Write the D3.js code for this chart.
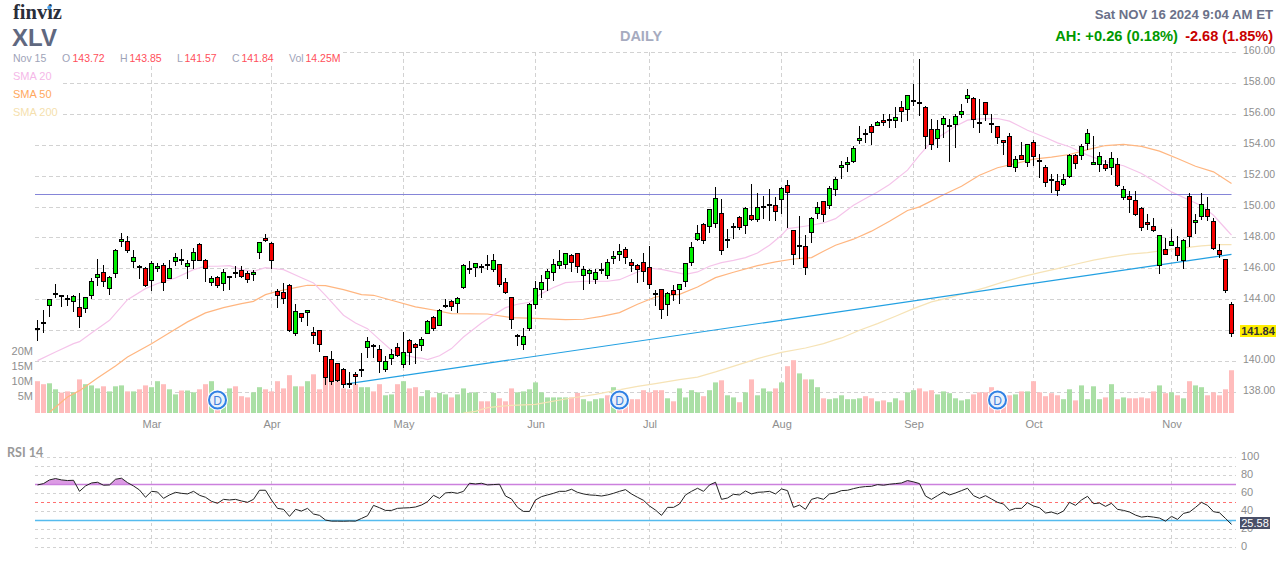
<!DOCTYPE html>
<html>
<head>
<meta charset="utf-8">
<script src="https://cdn.jsdelivr.net/npm/d3@7"></script>
<style>
  html, body { margin: 0; padding: 0; background: #fff; overflow: hidden; }
  text { font-family: "Liberation Sans", Arial, sans-serif; }
</style>
</head>
<body>
<div id="chart"></div>
<script>
// candles, one entry per trading day
const opens = [
  142.07,142.50,143.60,144.38,144.23,144.03,143.86,143.49,143.43,144.25,
  145.41,145.76,144.72,145.67,147.74,147.76,146.45,146.10,146.02,145.22,
  146.00,146.21,145.37,146.45,146.56,146.12,146.53,147.57,146.53,145.09,
  145.43,145.05,145.44,145.72,145.89,145.69,145.63,147.05,147.96,147.64,
  144.53,144.46,144.92,141.79,143.10,143.17,141.87,142.00,140.32,140.13,
  139.87,139.48,138.53,139.16,139.46,140.90,140.99,140.77,139.46,140.19,
  140.90,139.80,141.36,141.10,141.03,141.79,142.84,142.33,143.56,143.88,
  143.73,144.76,145.98,146.08,146.10,146.25,145.95,146.27,145.11,144.14,
  141.62,141.10,142.13,143.69,144.63,145.37,145.76,146.19,146.27,146.86,
  146.99,145.54,145.69,145.28,145.93,145.54,146.66,146.92,147.25,146.40,
  146.21,146.40,146.08,144.36,144.66,143.69,144.59,144.66,145.17,146.40,
  147.89,148.86,148.73,148.93,149.58,147.87,148.67,149.32,148.80,149.45,
  149.19,150.01,150.12,150.09,150.48,151.39,148.47,147.48,147.44,148.35,
  149.58,150.35,150.09,151.13,152.56,152.73,152.93,154.28,154.74,155.19,
  155.25,155.60,155.60,155.58,156.44,156.31,156.88,156.70,156.44,155.04,
  154.44,155.34,155.26,155.34,155.99,157.02,157.02,155.43,156.77,155.34,
  155.21,154.31,154.56,152.56,153.33,152.88,154.15,152.97,152.56,151.72,
  151.63,151.48,151.98,153.33,153.33,154.11,152.75,152.75,152.75,152.56,
  152.75,150.62,150.68,150.42,149.90,149.00,148.74,146.23,147.25,147.51,
  147.38,146.54,150.68,149.00,149.39,149.84,149.06,147.18,146.60,143.72
];
const highs = [
  142.67,143.32,144.08,145.05,144.27,144.29,144.29,144.46,144.14,145.43,
  146.62,146.23,145.56,147.31,148.30,148.11,147.20,146.23,146.12,146.51,
  146.41,146.38,146.60,147.05,147.27,146.56,147.38,147.66,146.66,145.56,
  145.52,145.97,145.52,146.21,146.21,145.84,145.95,147.70,148.24,147.76,
  144.68,145.11,145.05,143.71,143.10,143.36,142.26,142.07,140.32,140.67,
  139.87,139.61,139.31,139.35,140.58,141.57,141.16,141.05,140.34,140.84,
  141.23,141.90,141.44,141.23,141.59,142.71,142.93,143.38,144.07,144.01,
  144.16,146.34,146.49,146.34,146.34,146.88,146.94,146.27,145.39,144.14,
  141.79,142.15,143.81,145.20,145.58,145.97,146.64,147.20,146.99,146.99,
  147.05,146.21,146.00,145.97,146.40,146.62,147.14,147.63,147.44,146.66,
  146.30,147.05,147.50,144.66,144.66,144.53,144.98,145.04,146.34,147.76,
  148.86,148.99,149.90,151.32,150.55,148.60,148.99,149.45,150.03,151.52,
  150.93,150.70,151.15,150.68,151.32,151.78,148.47,149.40,148.17,149.36,
  150.35,150.35,151.39,151.97,152.99,153.21,153.94,155.23,155.02,155.36,
  155.56,156.05,156.05,156.49,156.85,157.28,157.93,159.61,156.57,155.69,
  155.62,155.86,155.69,156.01,156.64,157.61,157.09,156.96,156.77,156.01,
  155.21,154.37,154.76,153.29,154.20,154.03,154.35,153.40,152.69,152.11,
  152.11,152.11,153.46,153.46,154.05,155.02,154.59,153.59,153.03,153.53,
  153.16,151.39,151.07,151.07,150.03,149.54,149.32,148.15,147.98,148.61,
  148.11,147.95,150.94,149.52,150.94,150.62,149.32,147.64,146.60,143.85
];
const lows = [
  141.34,141.85,142.89,144.12,143.54,143.58,143.21,142.18,143.15,144.08,
  144.90,144.81,144.31,145.41,147.42,147.05,146.04,145.35,144.83,144.57,
  145.80,144.57,145.33,146.19,146.23,145.35,146.02,146.49,145.15,144.92,
  144.79,144.57,144.66,145.39,145.43,145.07,145.20,146.62,147.76,146.02,
  143.47,143.71,141.92,141.68,142.57,142.28,141.14,140.62,138.49,138.51,
  138.66,138.27,138.31,138.49,139.01,140.23,140.23,139.26,139.35,139.78,
  140.30,139.57,139.78,139.87,140.66,141.79,141.98,142.33,143.47,143.25,
  143.12,144.70,145.65,145.48,145.74,145.95,145.80,144.83,144.38,142.09,
  140.99,140.73,141.96,143.38,144.10,144.55,145.20,146.00,146.02,145.78,
  145.76,144.61,145.04,145.00,145.69,145.33,146.34,146.49,146.30,145.78,
  145.07,145.13,144.70,143.62,142.74,142.93,143.92,143.71,144.81,146.17,
  147.81,147.59,148.35,148.67,146.90,147.33,147.96,148.50,148.26,149.12,
  149.04,149.25,149.12,149.10,149.53,148.65,146.23,146.66,145.58,147.68,
  149.25,149.04,149.88,150.70,151.82,152.26,152.88,154.09,154.15,154.00,
  155.23,155.23,155.13,155.13,155.51,155.56,156.53,155.90,153.74,153.68,
  153.81,154.44,152.93,153.83,155.77,156.74,155.10,154.80,155.56,154.76,
  154.11,153.36,152.58,152.26,153.08,152.60,152.64,151.89,151.31,150.92,
  150.72,151.39,151.91,152.45,153.03,153.68,152.69,152.26,152.34,152.06,
  151.31,150.44,149.62,149.43,148.46,148.50,148.39,145.67,146.93,147.47,
  146.49,146.00,147.42,148.27,149.19,149.11,147.25,146.71,144.44,141.57
];
const closes = [
  142.12,142.53,144.01,144.42,144.27,144.07,144.20,142.91,144.14,145.18,
  145.63,145.15,145.43,147.18,147.89,147.16,146.73,146.14,144.90,146.34,
  146.15,145.11,146.02,146.73,146.60,146.34,147.05,146.53,146.00,145.37,
  144.90,145.76,145.48,145.76,145.50,145.28,145.76,147.70,147.83,146.53,
  144.27,144.05,142.00,143.23,142.85,143.30,141.66,141.10,138.96,138.70,
  138.77,138.53,138.57,139.01,139.50,141.29,141.03,139.98,140.00,140.45,
  140.36,140.58,140.58,140.88,141.42,142.58,142.13,143.30,143.60,143.56,
  144.07,146.21,146.02,146.34,146.14,146.29,146.53,144.96,144.46,142.71,
  141.66,141.61,143.69,144.72,145.11,145.82,146.27,146.47,146.99,146.40,
  146.12,145.95,145.89,145.76,145.97,146.40,146.79,147.12,146.71,146.19,
  145.95,145.80,144.98,144.40,143.36,144.40,144.33,144.98,146.34,147.37,
  148.28,147.81,149.83,150.55,147.18,147.91,148.71,148.67,149.90,149.17,
  149.96,150.05,150.16,149.70,151.19,150.93,146.92,147.52,146.08,149.25,
  149.96,149.51,151.19,151.78,152.71,152.88,153.79,154.44,154.78,154.82,
  155.47,155.45,155.64,155.79,156.16,157.22,156.92,156.74,154.54,154.05,
  155.04,155.73,155.30,155.86,156.18,157.22,155.64,155.47,155.99,155.38,
  154.50,154.18,152.64,153.08,153.08,154.03,153.27,153.01,151.59,151.76,
  151.05,151.78,153.36,152.82,153.90,154.76,152.88,153.27,152.49,153.14,
  151.39,151.13,150.49,149.52,148.67,148.87,148.48,148.15,146.93,147.77,
  146.86,147.81,148.09,149.13,150.16,149.39,147.29,146.93,144.57,141.84
];

// volume in millions
const volumes = [
  10.6,9.6,9.9,7.9,6.8,7.2,6.9,11.2,9.6,9.2,
  8.2,8.9,7.2,8.9,9.2,7.2,7.2,7.9,9.2,8.6,
  10.6,9.6,7.9,6.2,7.5,7.5,6.9,7.9,9.6,10.6,
  5.0,6.4,8.2,8.9,5.6,5.2,6.9,8.6,7.9,7.2,
  10.6,8.2,12.6,8.9,8.9,10.6,12.9,7.9,11.9,11.2,
  10.6,8.2,7.9,9.6,8.6,8.6,7.2,9.6,5.9,6.2,
  9.6,10.6,8.2,8.6,5.6,7.6,5.2,6.7,6.2,5.2,
  6.2,8.2,6.7,6.9,3.9,3.9,6.7,4.9,3.9,8.2,
  6.9,7.2,7.9,10.2,6.9,5.2,5.2,5.2,5.2,5.2,
  6.7,4.6,3.9,4.6,4.9,5.9,8.6,3.1,4.2,4.6,
  4.6,7.6,6.9,7.6,7.6,4.9,3.9,8.2,5.2,7.6,
  6.9,5.6,7.6,10.2,10.9,5.9,5.2,3.6,6.9,11.2,
  5.9,8.2,7.2,8.2,10.2,15.6,17.6,13.2,11.2,11.2,
  8.6,4.9,4.6,4.9,5.9,4.6,4.6,4.9,5.6,4.9,
  3.9,4.2,3.6,4.9,4.2,6.9,7.6,8.2,7.2,7.6,
  6.2,7.2,6.6,4.9,4.2,4.6,6.2,6.9,6.9,8.6,
  5.4,5.4,5.9,6.2,7.2,7.2,10.6,6.9,5.6,6.6,
  5.9,4.6,7.9,4.2,9.2,4.6,8.9,4.6,5.2,9.6,
  4.6,5.2,4.9,4.9,5.2,4.9,7.2,9.2,6.6,6.9,
  5.9,4.9,10.6,9.2,8.6,5.9,6.9,5.9,7.9,14.25
];
// 1 = green volume bar, 0 = pink
const volumeUp = [
  0,0,1,1,0,0,1,0,1,1,
  1,0,1,1,1,0,1,0,0,1,
  1,0,1,1,0,1,1,0,0,1,
  0,1,1,0,0,0,1,1,0,0,
  0,0,0,1,0,1,0,0,0,0,
  0,0,0,0,1,1,0,0,1,1,
  0,1,0,0,1,1,0,1,1,0,
  1,1,1,1,0,0,1,0,0,0,
  1,1,1,1,1,1,1,1,1,0,
  0,1,1,1,1,0,1,0,0,0,
  0,0,0,0,0,1,0,1,1,1,
  1,0,1,1,0,1,1,0,1,0,
  1,1,1,0,1,0,0,1,0,1,
  1,0,1,1,1,1,1,1,0,0,
  1,0,1,1,0,1,1,0,0,0,
  1,1,1,1,1,1,0,0,0,0,
  0,0,0,1,0,1,0,0,0,0,
  0,1,1,0,1,1,1,1,0,1,
  0,1,0,0,0,0,0,1,0,1,
  0,1,0,1,1,0,0,0,0,0
];

const rsi = [
  69.5,71.0,75.1,76.6,75.1,74.4,74.7,62.4,68.4,71.7,
  72.5,69.2,69.5,75.8,77.0,72.1,68.4,63.9,55.8,62.4,
  61.7,54.6,58.4,61.3,60.2,59.5,62.4,58.0,55.8,51.3,
  49.1,53.5,52.8,53.5,51.7,50.2,53.5,63.6,63.6,52.8,
  43.5,42.4,34.6,42.4,40.5,43.5,37.2,35.7,30.5,29.3,
  29.3,29.2,29.4,29.3,32.3,35.3,46.8,44.2,41.2,41.2,
  43.5,43.9,44.2,45.0,47.2,50.9,58.0,54.6,60.6,61.3,
  60.2,62.4,71.4,70.6,71.4,69.5,69.9,70.3,57.2,53.9,
  44.6,40.1,40.1,52.8,56.5,58.4,60.2,62.4,62.4,64.7,
  61.3,59.5,58.4,58.0,57.2,58.4,60.2,62.4,64.3,59.5,
  55.8,52.4,46.1,41.6,35.7,44.6,44.6,48.3,58.4,62.4,
  65.8,62.4,69.5,72.5,53.5,55.0,59.1,58.4,62.8,59.5,
  61.3,61.7,62.4,59.5,65.1,63.2,44.6,47.2,42.4,53.5,
  55.4,53.5,59.5,60.6,63.2,63.6,65.4,66.9,67.7,68.0,
  69.9,69.2,70.3,71.0,71.7,74.4,72.9,71.0,57.2,53.5,
  57.6,61.7,58.4,60.6,63.2,65.8,57.6,54.6,57.6,53.9,
  50.2,48.3,41.2,43.5,43.5,49.8,46.1,44.2,38.3,39.4,
  37.2,40.5,50.2,46.8,52.8,56.9,48.7,49.4,45.7,49.1,
  42.4,41.2,39.4,36.0,33.8,34.6,33.8,32.7,29.3,34.6,
  31.2,37.9,39.4,44.6,50.2,46.8,39.8,38.6,32.3,25.58
];

// moving averages, read at every few bars: day index and price
const sma20Days = [0,3,6,7,9,12,15,18,20,23,26,28,30,32,34,36,38,39,41,44,46,48,51,53,55,57,59,61,63,64,65,67,69,71,74,76,78,80,82,84,86,88,91,95,97,100,102,104,106,108,110,112,114,116,118,120,122,124,125,127,129,131,133,134,136,138,140,142,145,147,149,151,153,155,157,160,162,165,168,170,172,175,178,181,184,187,189,192,194,196,198,199];
const sma20Vals = [140.06,140.62,141.16,141.29,141.85,142.67,144.01,144.72,145.05,145.41,145.95,146.17,146.17,146.21,145.95,145.84,146.08,146.04,145.95,145.43,145.09,144.29,143.00,142.50,142.13,141.42,140.73,140.45,140.26,140.23,140.13,140.38,140.84,141.59,142.50,143.02,143.49,143.71,143.84,144.40,144.79,145.11,145.20,145.20,145.30,145.80,146.04,145.97,145.80,145.65,145.80,146.17,146.40,146.55,146.73,147.03,147.53,148.17,148.60,148.71,148.82,148.97,149.25,149.54,150.12,150.55,150.98,151.46,152.39,153.36,154.22,154.72,155.23,155.62,155.71,155.73,155.56,154.97,154.50,154.15,153.90,153.36,152.93,152.67,152.17,151.48,150.98,150.44,150.08,149.47,148.61,148.18];
const sma50Days = [2,5,7,10,13,15,19,22,25,28,31,34,36,38,40,43,45,48,51,54,56,59,63,64,66,69,75,79,83,88,91,94,97,100,103,107,110,113,116,120,123,126,129,131,133,136,139,142,145,147,149,151,154,157,160,163,166,169,172,175,178,181,184,187,190,193,196,199];
const sma50Vals = [136.72,137.71,138.12,138.94,139.72,140.30,141.16,141.87,142.57,143.15,143.49,143.75,143.90,144.33,144.55,144.79,144.94,144.92,144.66,144.33,144.29,143.97,143.54,143.47,143.34,143.10,143.08,142.84,142.80,142.71,142.74,142.93,143.17,143.71,144.18,144.35,144.83,145.43,145.78,146.21,146.45,146.64,146.73,147.14,147.53,147.92,148.44,149.08,149.78,150.01,150.40,150.79,151.35,152.06,152.54,152.82,153.10,153.23,153.40,153.72,153.98,154.05,153.92,153.62,153.14,152.64,152.28,151.52];
const sma200Days = [71,73,75,79,83,88,93,96,100,103,107,110,113,117,120,124,128,131,133,134,137,140,143,146,149,152,155,158,161,164,167,170,173,176,179,182,185,188,191,194,197,199];
const sma200Vals = [136.67,136.78,137.02,137.17,137.23,137.58,137.88,138.10,138.40,138.57,138.83,139.00,139.33,139.82,140.19,140.60,140.88,141.16,141.42,141.53,142.03,142.46,142.93,143.43,143.86,144.14,144.47,144.79,145.16,145.48,145.76,146.02,146.30,146.56,146.77,146.95,147.05,147.21,147.36,147.49,147.57,147.57];

// drawn annotations
const trendDays = [51, 199];
const trendVals = [138.53, 146.94];
const resistance = 150.81;
const dividendDays = [30, 97, 160];

// axis ticks
const monthDays = [19, 39, 61, 83, 102, 124, 146, 166, 189];
const monthLabels = ["Mar", "Apr", "May", "Jun", "Jul", "Aug", "Sep", "Oct", "Nov"];
const priceTicks = d3.range(138, 161, 2);
const volumeTicks = [5, 10, 15, 20];
const rsiGrid = [0, 10, 20, 30, 40, 50, 60, 70, 80, 90, 100];
const rsiLabels = [0, 20, 40, 60, 80, 100];

const width = 1287, height = 562;
const left = 35, gridRight = 1236;

const svg = d3.select("#chart").append("svg")
  .attr("width", width).attr("height", height)
  .style("display", "block");

const x = d3.scaleLinear().domain([0, 199]).range([37.5, 1231.5]);
const y = d3.scaleLinear().domain([138, 160]).range([392.5, 52.5]);
const yVol = d3.scaleLinear().domain([0, 20]).range([413, 353]);
const yRsi = d3.scaleLinear().domain([0, 100]).range([547.5, 457.5]);

const gridColor = "#d2d2d2";
const crisp = v => Math.round(v - 0.5) + 0.5;

// price grid
svg.append("g").selectAll("line").data(priceTicks).join("line")
  .attr("x1", left).attr("x2", gridRight)
  .attr("y1", d => crisp(y(d))).attr("y2", d => crisp(y(d)))
  .attr("stroke", gridColor).attr("stroke-dasharray", "4 3");
svg.append("g").selectAll("line").data(monthDays).join("line")
  .attr("x1", d => crisp(x(d))).attr("x2", d => crisp(x(d)))
  .attr("y1", 52).attr("y2", 413)
  .attr("stroke", gridColor).attr("stroke-dasharray", "4 3");

// white boxes behind the legend
svg.append("rect").attr("x", 0).attr("y", 50).attr("width", 343).attr("height", 14).attr("fill", "#fff");
svg.append("rect").attr("x", 0).attr("y", 64).attr("width", 60).attr("height", 56).attr("fill", "#fff");

// volume
svg.append("g").selectAll("rect").data(volumes).join("rect")
  .attr("x", (d, i) => x(i) - 2.5)
  .attr("width", 5)
  .attr("y", d => yVol(d))
  .attr("height", d => yVol(0) - yVol(d))
  .attr("fill", (d, i) => volumeUp[i] ? "#aadfa5" : "#ffbcbc");

// moving averages
svg.append("clipPath").attr("id", "plot").append("rect")
  .attr("x", left).attr("y", 52).attr("width", gridRight - left).attr("height", 361);
const priceLine = d3.line().x(d => x(d[0])).y(d => y(d[1]));
const plot = svg.append("g").attr("clip-path", "url(#plot)");
[[sma200Days, sma200Vals, "#f6e3b6"], [sma50Days, sma50Vals, "#ffb680"], [sma20Days, sma20Vals, "#f5c4ea"]]
  .forEach(([days, vals, color]) => {
    plot.append("path")
      .attr("d", priceLine(d3.zip(days, vals)))
      .attr("fill", "none").attr("stroke", color).attr("stroke-width", 1.2);
  });

// trend line and resistance
plot.append("path")
  .attr("d", priceLine(d3.zip(trendDays, trendVals)))
  .attr("fill", "none").attr("stroke", "#22a0e2").attr("stroke-width", 1.2);
svg.append("line")
  .attr("x1", left).attr("x2", x(199))
  .attr("y1", crisp(y(resistance))).attr("y2", crisp(y(resistance)))
  .attr("stroke", "#8585d8");

// candles
const days = d3.range(closes.length);
const candles = svg.append("g");
candles.selectAll("line").data(days).join("line")
  .attr("x1", i => x(i)).attr("x2", i => x(i))
  .attr("y1", i => Math.round(y(highs[i]))).attr("y2", i => Math.round(y(lows[i])))
  .attr("stroke", "#000");
candles.selectAll("rect").data(days).join("rect")
  .attr("x", i => x(i) - 2)
  .attr("width", 4)
  .attr("y", i => crisp(y(Math.max(opens[i], closes[i]))))
  .attr("height", i => Math.max(1, Math.round(y(Math.min(opens[i], closes[i])) - y(Math.max(opens[i], closes[i])))))
  .attr("fill", i => closes[i] >= opens[i] ? "#00ee00" : "#f50000")
  .attr("stroke", "#000");

// dividend markers
const divs = svg.append("g").selectAll("g").data(dividendDays).join("g")
  .attr("transform", d => `translate(${x(d)},400)`);
divs.append("circle").attr("r", 10.5).attr("fill", "#fff");
divs.append("circle").attr("r", 8.5).attr("fill", "#e8f0fb").attr("stroke", "#2f80e4").attr("stroke-width", 2);
divs.append("text").attr("text-anchor", "middle").attr("y", 4.5)
  .attr("font-size", 12).attr("fill", "#3d7fdc").text("D");

// axes
const styleAxis = g => {
  g.select(".domain").remove();
  g.selectAll("line").remove();
  g.selectAll("text").attr("font-family", "Liberation Sans").attr("font-size", 11).attr("fill", "#8e8e8e");
};
svg.append("g").attr("transform", "translate(1243,-2)")
  .call(d3.axisRight(y).tickValues(priceTicks).tickFormat(d3.format(".2f")).tickSize(0).tickPadding(0))
  .call(styleAxis)
  .call(g => g.selectAll("text").attr("font-size", 10.5));
svg.append("g").attr("transform", "translate(33,-2.5)")
  .call(d3.axisLeft(yVol).tickValues(volumeTicks).tickFormat(d => d + "M").tickSize(0).tickPadding(0))
  .call(styleAxis);
svg.append("g").attr("transform", "translate(0,420)")
  .call(d3.axisBottom(x).tickValues(monthDays).tickFormat((d, i) => monthLabels[i]).tickSize(0).tickPadding(0))
  .call(styleAxis);

// RSI panel
svg.append("g").selectAll("line").data(rsiGrid.filter(d => d !== 70 && d !== 30 && d !== 50)).join("line")
  .attr("x1", left).attr("x2", gridRight)
  .attr("y1", d => crisp(yRsi(d))).attr("y2", d => crisp(yRsi(d)))
  .attr("stroke", gridColor).attr("stroke-dasharray", "3 3");
svg.append("g").selectAll("line").data(monthDays).join("line")
  .attr("x1", d => crisp(x(d))).attr("x2", d => crisp(x(d)))
  .attr("y1", 457).attr("y2", 548)
  .attr("stroke", gridColor).attr("stroke-dasharray", "3 3");

const defs = svg.append("defs");
defs.append("clipPath").attr("id", "above70").append("rect")
  .attr("x", left).attr("y", yRsi(100)).attr("width", gridRight - left).attr("height", yRsi(70) - yRsi(100));
defs.append("clipPath").attr("id", "below30").append("rect")
  .attr("x", left).attr("y", yRsi(30)).attr("width", gridRight - left).attr("height", yRsi(0) - yRsi(30));
const rsiArea = base => d3.area().x((d, i) => x(i)).y0(yRsi(base)).y1(d => yRsi(d));
svg.append("path").attr("clip-path", "url(#above70)").attr("d", rsiArea(70)(rsi)).attr("fill", "#dc9be4");
svg.append("path").attr("clip-path", "url(#below30)").attr("d", rsiArea(30)(rsi)).attr("fill", "#a8dcf5");

svg.append("line").attr("x1", left).attr("x2", gridRight)
  .attr("y1", crisp(yRsi(70))).attr("y2", crisp(yRsi(70)))
  .attr("stroke", "#cc80dd").attr("stroke-width", 1.3);
svg.append("line").attr("x1", left).attr("x2", gridRight)
  .attr("y1", crisp(yRsi(50))).attr("y2", crisp(yRsi(50)))
  .attr("stroke", "#ff7070").attr("stroke-dasharray", "3 3");
svg.append("line").attr("x1", left).attr("x2", gridRight)
  .attr("y1", crisp(yRsi(30))).attr("y2", crisp(yRsi(30)))
  .attr("stroke", "#55bbee").attr("stroke-width", 1.3);

svg.append("path")
  .attr("d", d3.line().x((d, i) => x(i)).y(d => yRsi(d))(rsi))
  .attr("fill", "none").attr("stroke", "#222").attr("stroke-width", 1);

svg.append("g").attr("transform", "translate(1241,-1.5)")
  .call(d3.axisRight(yRsi).tickValues(rsiLabels).tickSize(0).tickPadding(0))
  .call(styleAxis);

svg.append("text").attr("x", 7).attr("y", 457)
  .style("font-family", "Lato").style("font-weight", 700).attr("font-size", 12.5).attr("fill", "#999").text("RSI 14");

// last value tags
svg.append("rect").attr("x", 1240).attr("y", 325).attr("width", 36).attr("height", 12).attr("fill", "#ffee00");
svg.append("text").attr("x", 1258).attr("y", 335).attr("text-anchor", "middle")
  .attr("font-size", 11).attr("font-weight", "bold").attr("fill", "#333").text(d3.format(".2f")(closes[199]));
svg.append("rect").attr("x", 1240).attr("y", 517).attr("width", 30).attr("height", 12).attr("fill", "#4a5068");
svg.append("text").attr("x", 1255).attr("y", 527).attr("text-anchor", "middle")
  .attr("font-size", 11).attr("fill", "#fff").text(d3.format(".2f")(rsi[199]));

// header
svg.append("text").attr("x", 13).attr("y", 19)
  .style("font-family", "Liberation Serif").attr("font-size", 20.5).attr("font-weight", "bold").attr("fill", "#2a2e3a").text("finviz");
svg.append("circle").attr("cx", 49.3).attr("cy", 7.5).attr("r", 2).attr("fill", "#4aa3f0");
svg.append("text").attr("x", 12).attr("y", 46)
  .attr("font-size", 24).attr("font-weight", "bold").attr("fill", "#5f6880").text("XLV");
svg.append("text").attr("x", 641).attr("y", 41).attr("text-anchor", "middle")
  .attr("font-size", 14.5).attr("font-weight", "bold").attr("fill", "#a6abbf").text("DAILY");
svg.append("text").attr("x", 1273).attr("y", 18.5).attr("text-anchor", "end")
  .attr("font-size", 13.2).attr("font-weight", "bold").attr("fill", "#6b7189").text("Sat NOV 16 2024 9:04 AM ET");
svg.append("text").attr("x", 1178).attr("y", 41).attr("text-anchor", "end")
  .attr("font-size", 14.7).attr("font-weight", "bold").attr("fill", "#009900").text("AH: +0.26 (0.18%)");
svg.append("text").attr("x", 1273).attr("y", 41).attr("text-anchor", "end")
  .attr("font-size", 14.5).attr("font-weight", "bold").attr("fill", "#c80000").text("-2.68 (1.85%)");

// legend
const legendGrey = "#9ea3b8", legendRed = "#ff4f5a";
const legendRow = [
  ["Nov 15", 13, legendGrey], ["O", 62, legendGrey], ["143.72", 72.5, legendRed],
  ["H", 120, legendGrey], ["143.85", 129.5, legendRed], ["L", 177, legendGrey], ["141.57", 184.5, legendRed],
  ["C", 232, legendGrey], ["141.84", 241.5, legendRed], ["Vol", 289, legendGrey], ["14.25M", 305.5, legendRed]
];
svg.append("g").selectAll("text").data(legendRow).join("text")
  .attr("x", d => d[1]).attr("y", 62).attr("font-size", 10.5).attr("fill", d => d[2]).text(d => d[0]);
const smaLegend = [["SMA 20", 80, "#f5b8e8"], ["SMA 50", 98, "#ffa860"], ["SMA 200", 116, "#f5dfae"]];
svg.append("g").selectAll("text").data(smaLegend).join("text")
  .attr("x", 13).attr("y", d => d[1]).attr("font-size", 11).attr("fill", d => d[2]).text(d => d[0]);
</script>
</body>
</html>
